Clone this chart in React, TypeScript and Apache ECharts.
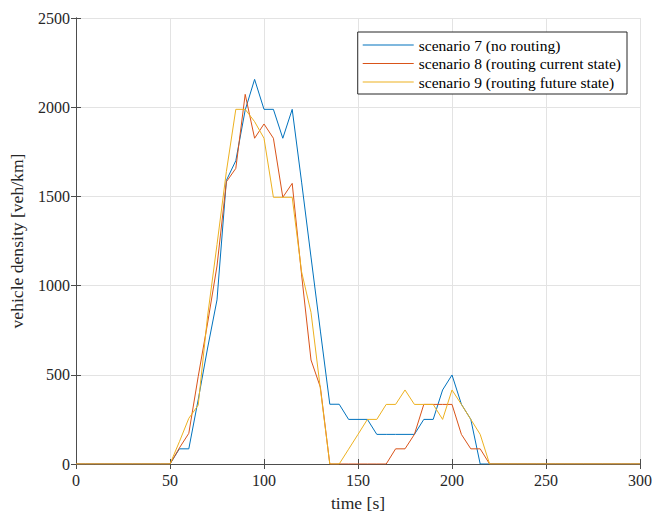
import React, { useEffect, useRef } from "react";
import * as echarts from "echarts";

const time = [
  0, 5, 10, 15, 20, 25, 30, 35, 40, 45,
  50, 55, 60, 65, 70, 75, 80, 85, 90, 95,
  100, 105, 110, 115, 120, 125, 130, 135, 140, 145,
  150, 155, 160, 165, 170, 175, 180, 185, 190, 195,
  200, 205, 210, 215, 220, 225, 230, 235, 240, 245,
  250, 255, 260, 265, 270, 275, 280, 285, 290, 295, 300,
];

const scenario7 = [
  0, 0, 0, 0, 0, 0, 0, 0, 0, 0,
  0, 85, 85, 360, 650, 920, 1590, 1700, 1984, 2156,
  1988, 1988, 1826, 1988, 1580, 1160, 745, 335, 335, 250,
  250, 250, 166, 166, 166, 166, 166, 250, 250, 415,
  499, 335, 250, 0, 0, 0, 0, 0, 0, 0,
  0, 0, 0, 0, 0, 0, 0, 0, 0, 0, 0,
];

const scenario8 = [
  0, 0, 0, 0, 0, 0, 0, 0, 0, 0,
  0, 90, 172, 490, 790, 1110, 1582, 1657, 2072, 1826,
  1906, 1826, 1495, 1573, 1060, 583, 430, 0, 0, 0,
  0, 0, 0, 0, 85, 85, 166, 334, 334, 334,
  334, 166, 85, 85, 0, 0, 0, 0, 0, 0,
  0, 0, 0, 0, 0, 0, 0, 0, 0, 0, 0,
];

const scenario9 = [
  0, 0, 0, 0, 0, 0, 0, 0, 0, 0,
  0, 125, 256, 330, 830, 1230, 1640, 1988, 1988, 1919,
  1826, 1495, 1495, 1495, 1077, 850, 420, 0, 0, 83,
  166, 250, 250, 334, 334, 415, 334, 334, 334, 250,
  415, 334, 250, 166, 0, 0, 0, 0, 0, 0,
  0, 0, 0, 0, 0, 0, 0, 0, 0, 0, 0,
];

const seriesNames = [
  "scenario 7 (no routing)",
  "scenario 8 (routing current state)",
  "scenario 9 (routing future state)",
];
const seriesColors = ["#0072BD", "#D95319", "#EDB120"];

const FONT = "Liberation Serif";
const AXIS_COLOR = "#4d4d4d";
const TEXT_COLOR = "#262626";

export default function App() {
  const ref = useRef<HTMLDivElement>(null);

  useEffect(() => {
    if (!ref.current) return;
    const chart = echarts.init(ref.current, undefined, { renderer: "svg" });
    const pairs = (vals: number[]) => time.map((t, i) => [t, vals[i]]);
    const allVals = [scenario7, scenario8, scenario9];

    const axisLine = { show: true, lineStyle: { color: AXIS_COLOR, width: 1 } };
    const axisTick = { show: true, inside: true, length: 5, lineStyle: { color: AXIS_COLOR, width: 1 } };
    const tickText = { fontFamily: FONT, fontSize: 16, color: TEXT_COLOR };
    const plain = (v: number) => String(v);

    chart.setOption({
      animation: false,
      backgroundColor: "#ffffff",
      textStyle: { fontFamily: FONT },
      grid: {
        left: 76,
        right: 13,
        top: 18,
        bottom: 48,
        containLabel: false,
        outerBoundsMode: "none",
      },
      legend: {
        orient: "vertical",
        right: 26,
        top: 32,
        padding: [4, 6, 3, 5],
        icon: "rect",
        itemWidth: 51,
        itemHeight: 1.2,
        itemGap: 0.5,
        backgroundColor: "#ffffff",
        borderColor: "#262626",
        borderWidth: 1,
        borderRadius: 0,
        data: seriesNames,
        textStyle: {
          fontFamily: FONT,
          fontSize: 15.5,
          lineHeight: 18,
          color: "#000000",
        },
      },
      xAxis: [
        {
          type: "value",
          min: 0,
          max: 300,
          interval: 50,
          position: "bottom",
          name: "time [s]",
          nameLocation: "middle",
          nameGap: 30,
          nameTextStyle: { fontFamily: FONT, fontSize: 17.6, color: TEXT_COLOR },
          axisLine,
          axisTick,
          axisLabel: { ...tickText, margin: 8, formatter: plain },
          splitLine: { show: true, lineStyle: { color: "#e3e3e3", width: 1 } },
        },
        {
          type: "value",
          min: 0,
          max: 300,
          interval: 50,
          position: "top",
          axisLine,
          axisTick,
          axisLabel: { show: false },
          splitLine: { show: false },
        },
      ],
      yAxis: [
        {
          type: "value",
          min: 0,
          max: 2500,
          interval: 500,
          position: "left",
          name: "vehicle density [veh/km]",
          nameLocation: "middle",
          nameGap: 50,
          nameTextStyle: { fontFamily: FONT, fontSize: 17.6, color: TEXT_COLOR },
          axisLine,
          axisTick,
          axisLabel: { ...tickText, margin: 6, formatter: plain },
          splitLine: { show: true, lineStyle: { color: "#e3e3e3", width: 1 } },
        },
        {
          type: "value",
          min: 0,
          max: 2500,
          interval: 500,
          position: "right",
          axisLine,
          axisTick,
          axisLabel: { show: false },
          splitLine: { show: false },
        },
      ],
      series: seriesNames.map((name, i) => ({
        name,
        type: "line",
        xAxisIndex: 0,
        yAxisIndex: 0,
        data: pairs(allVals[i]),
        symbol: "none",
        showSymbol: false,
        color: seriesColors[i],
        lineStyle: { color: seriesColors[i], width: 1 },
        z: 2 + i,
      })),
    });

    return () => {
      chart.dispose();
    };
  }, []);

  return (
    <div
      ref={ref}
      style={{ position: "fixed", left: 0, top: 0, width: 653, height: 512, background: "#fff" }}
    />
  );
}
